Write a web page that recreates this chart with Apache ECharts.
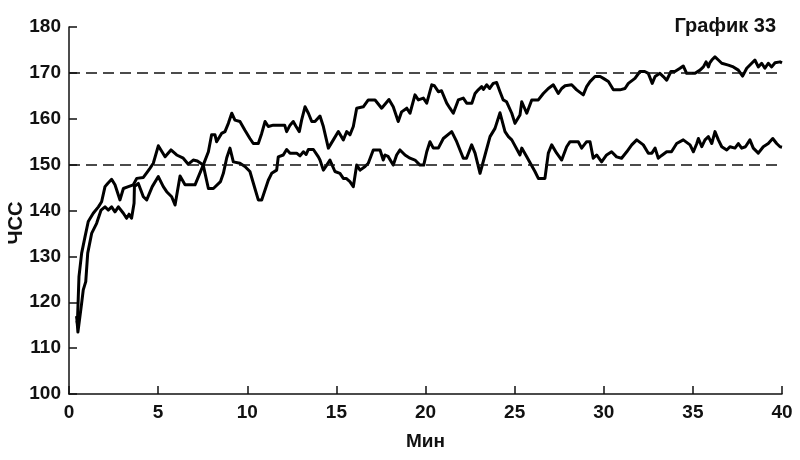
<!DOCTYPE html>
<html>
<head>
<meta charset="utf-8">
<script src="https://cdn.jsdelivr.net/npm/echarts@6/dist/echarts.min.js"></script>
<style>html,body{margin:0;padding:0;background:#fff}#c{width:800px;height:460px}</style>
</head>
<body>
<div id="c"></div>
<script>
// Upper series (ends near 172)
const aTime = [0.45,0.5,0.71,0.8,0.94,1.05,1.27,1.55,1.8,2.02,2.2,2.39,2.58,2.77,3.05,3.23,3.37,3.51,3.65,3.67,3.89,4.17,4.36,4.67,5.01,5.29,5.48,5.76,5.95,6.23,6.51,7.07,7.53,7.82,8.0,8.19,8.28,8.56,8.75,8.94,9.13,9.31,9.59,9.87,10.15,10.34,10.62,10.81,11.0,11.18,11.46,11.84,12.1,12.21,12.4,12.58,12.74,12.92,13.05,13.24,13.43,13.62,13.8,14.08,14.27,14.55,14.83,15.11,15.39,15.58,15.76,15.95,16.14,16.51,16.79,17.17,17.54,17.95,18.19,18.47,18.66,18.95,19.13,19.41,19.6,19.88,20.07,20.35,20.5,20.72,20.9,21.19,21.37,21.56,21.84,22.12,22.31,22.6,22.78,22.96,23.15,23.25,23.43,23.6,23.8,23.99,24.18,24.36,24.55,24.84,25.02,25.3,25.4,25.68,25.96,26.33,26.61,26.89,27.17,27.45,27.64,27.83,28.2,28.48,28.85,29.04,29.23,29.51,29.8,29.98,30.26,30.54,30.91,31.19,31.38,31.75,32.03,32.3,32.5,32.72,32.88,33.15,33.34,33.53,33.77,33.99,34.28,34.46,34.65,35.12,35.4,35.59,35.74,35.87,35.95,36.06,36.24,36.43,36.62,36.99,37.27,37.55,37.79,38.02,38.3,38.48,38.67,38.86,39.04,39.23,39.42,39.61,39.89,40];
const aHR = [116,113.5,119.8,122.7,124.5,130.7,135,137.2,140.1,140.8,140.1,140.8,139.7,140.8,139.4,138.3,139.2,138.3,141.6,145.2,145.9,143,142.3,145.2,147.4,145.2,144.1,143,141.2,147.5,145.6,145.6,149.9,152.8,156.5,156.5,155,156.8,157.2,159,161.2,159.7,159.4,157.5,155.7,154.6,154.6,156.8,159.4,158.3,158.6,158.6,158.6,157.2,158.6,159.4,158.3,157.2,159.7,162.6,161.2,159.4,159.4,160.6,158.3,153.6,155.4,157.2,155.4,157.2,156.5,158.3,162.3,162.6,164.1,164.1,162.3,164.2,162.6,159.4,161.5,162.3,161.2,165.2,164.1,164.5,163.4,167.4,167.2,165.9,166.1,163.4,162.3,161.2,164.1,164.5,163.4,163.4,165.5,166.3,167,166.4,167.4,166.6,167.7,167.9,165.9,164.1,163.7,161.2,159,160.8,163.7,161.2,164.1,164.1,165.5,166.6,167.4,165.5,166.6,167.2,167.4,166.3,165.2,167,168.1,169.2,169.2,168.8,168.1,166.3,166.3,166.6,167.7,168.8,170.3,170.3,169.9,167.7,169.2,169.9,169.2,168.4,170.3,170.3,171,171.5,169.9,169.9,170.6,171.3,172.4,171.3,172.2,172.8,173.5,172.8,172.1,171.7,171.3,170.6,169.3,171,172.1,172.8,171.3,172.1,171,172.1,171.3,172.2,172.4,172.2];
// Lower series (ends near 154)
const bTime = [0.42,0.47,0.56,0.71,0.9,1.08,1.36,1.65,1.83,2.02,2.17,2.39,2.58,2.86,3.05,3.33,3.61,3.8,4.17,4.41,4.54,4.73,5.01,5.39,5.72,6.04,6.41,6.69,6.97,7.2,7.53,7.82,8.1,8.5,8.66,8.85,9.03,9.22,9.59,9.87,10.15,10.43,10.62,10.81,11.18,11.37,11.65,11.74,12.02,12.21,12.4,12.77,12.96,13.15,13.3,13.43,13.71,13.99,14.08,14.27,14.46,14.64,14.92,15.2,15.39,15.55,15.76,15.95,16.14,16.33,16.61,16.79,17.07,17.45,17.63,17.73,17.9,18.19,18.38,18.57,18.85,19.13,19.41,19.69,19.9,20.07,20.25,20.44,20.72,21.0,21.47,21.75,22.12,22.3,22.59,22.78,23.06,23.34,23.62,23.9,24.18,24.46,24.65,24.84,25.3,25.4,25.68,26.14,26.33,26.7,26.89,27.08,27.36,27.64,27.92,28.11,28.57,28.76,29.04,29.23,29.41,29.6,29.88,30.16,30.44,30.72,31.0,31.29,31.57,31.85,32.22,32.5,32.7,32.88,33.06,33.25,33.53,33.8,34.09,34.46,34.84,35.03,35.22,35.31,35.5,35.68,35.87,36.06,36.24,36.43,36.62,36.9,37.08,37.36,37.55,37.74,37.95,38.2,38.39,38.67,38.95,39.23,39.48,39.7,39.89,40];
const bHR = [117,115.4,125.6,130.7,134.3,137.6,139.4,140.8,141.9,145.2,145.9,146.8,145.6,142.3,144.8,145.2,145.6,147,147.2,148.5,149.2,150.3,154.1,151.7,153.2,152.1,151.4,150.1,151,150.8,149.9,144.8,144.8,146.3,148.1,151.5,153.6,150.6,150.3,149.6,148.5,144.8,142.3,142.3,146.6,148.1,148.8,151.7,152.1,153.3,152.5,152.5,151.9,152.8,152.2,153.3,153.3,151.7,151,148.8,149.9,151,148.5,148.1,147,147,146.3,145.2,149.9,148.8,149.6,150.3,153.2,153.2,151,152.1,151.8,149.9,152.1,153.2,152.1,151.4,151,149.9,149.9,152.8,155,153.6,153.6,155.7,157.2,155,151.4,151.4,154.3,152.5,148.1,152.1,156.1,157.9,161.3,157.2,156.1,155.4,152.1,153.6,151.7,148.5,147,147,152.5,154.3,152.5,151,153.9,155,155,153.6,155,155,151.4,152.1,150.6,152.1,152.8,151.7,151.4,152.8,154.3,155.4,154.3,152.5,152.5,153.6,151.4,152,152.8,152.8,154.6,155.4,154.3,152.8,154.6,155.7,153.9,155.4,156.1,154.6,157.2,155.4,153.9,153.2,153.9,153.6,154.6,153.6,153.9,155.4,153.6,152.5,153.9,154.6,155.7,154.6,153.9,153.8];
const refLines = [150, 170];
const xTicks = {min: 0, max: 40, step: 5};
const yTicks = {min: 100, max: 180, step: 10};
const titleText = 'График 33';
const xName = 'Мин';
const yName = 'ЧСС';

const zip = (t, v) => t.map((x, i) => [x, v[i]]);
const font = '"Liberation Sans", Arial, sans-serif';
const chart = echarts.init(document.getElementById('c'), null, {renderer: 'canvas'});
chart.setOption({
  animation: false,
  backgroundColor: '#fff',
  title: {text: titleText, right: 19, top: 11,
    textStyle: {fontFamily: font, fontSize: 20, fontWeight: 'bold', color: '#111'}},
  grid: {left: 69, right: 18, top: 27, bottom: 66},
  graphic: [{type: 'text', x: 16, y: 223, rotation: Math.PI / 2,
    style: {text: yName, fill: '#111', font: 'bold 20px ' + font, textAlign: 'center', textVerticalAlign: 'middle'}}],
  xAxis: {type: 'value', min: xTicks.min, max: xTicks.max, interval: xTicks.step,
    name: xName, nameLocation: 'middle', nameGap: 38,
    nameTextStyle: {fontFamily: font, fontSize: 19, fontWeight: 'bold', color: '#111'},
    axisLine: {lineStyle: {color: '#111', width: 1.5}},
    axisTick: {inside: true, length: 8, lineStyle: {color: '#111', width: 1.5}},
    axisLabel: {margin: 9, fontFamily: font, fontSize: 19, fontWeight: 'bold', color: '#111'},
    splitLine: {show: false}},
  yAxis: {type: 'value', min: yTicks.min, max: yTicks.max, interval: yTicks.step,
    axisLine: {show: true, lineStyle: {color: '#111', width: 1.5}},
    axisTick: {show: true, inside: true, length: 8, lineStyle: {color: '#111', width: 1.5}},
    axisLabel: {margin: 8, fontFamily: font, fontSize: 19, fontWeight: 'bold', color: '#111'},
    splitLine: {show: false}},
  series: [
    {type: 'line', data: zip(aTime, aHR), symbol: 'none', silent: true,
      lineStyle: {color: '#000', width: 3, join: 'round'},
      markLine: {silent: true, symbol: 'none', label: {show: false},
        lineStyle: {color: '#111', width: 1.5, type: [11, 6]},
        data: refLines.map(v => ({yAxis: v}))}},
    {type: 'line', data: zip(bTime, bHR), symbol: 'none', silent: true,
      lineStyle: {color: '#000', width: 3, join: 'round'}}
  ]
});
</script>
</body>
</html>
